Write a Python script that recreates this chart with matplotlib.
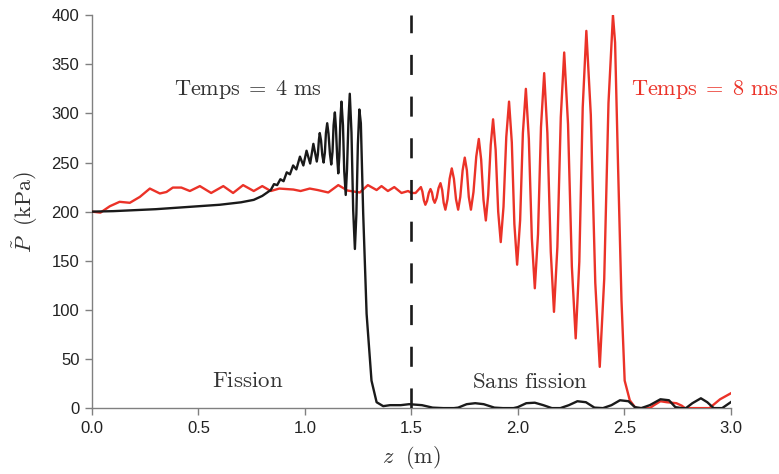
import matplotlib
matplotlib.use("Agg")
import matplotlib.pyplot as plt

plt.rcParams['mathtext.fontset'] = 'cm'
plt.rcParams['font.family'] = ['Liberation Sans', 'DejaVu Sans']

# Black curve: Temps = 4 ms
z_black = [0.0, 0.1, 0.2, 0.3, 0.4, 0.5, 0.6, 0.7, 0.76, 0.8, 0.84, 0.855, 0.87, 0.885, 0.9,
           0.915, 0.93, 0.945, 0.96, 0.977, 0.993, 1.008, 1.025, 1.04, 1.056,
           1.061, 1.066, 1.07, 1.076, 1.082, 1.088, 1.094, 1.099, 1.105, 1.111, 1.118, 1.124,
           1.130, 1.135, 1.141, 1.146, 1.152, 1.157, 1.162, 1.167, 1.172, 1.179, 1.185, 1.192,
           1.198, 1.205, 1.211, 1.219, 1.227, 1.235, 1.242, 1.249, 1.256, 1.263, 1.274, 1.29,
           1.313, 1.337, 1.368, 1.40, 1.45, 1.49, 1.55, 1.60, 1.65, 1.70, 1.72, 1.76, 1.80,
           1.84, 1.89, 1.93, 1.98, 2.00, 2.04, 2.08, 2.12, 2.16, 2.20, 2.24, 2.28, 2.32, 2.36,
           2.40, 2.44, 2.48, 2.52, 2.55, 2.58, 2.62, 2.67, 2.71, 2.74, 2.77, 2.79, 2.82, 2.86,
           2.89, 2.92, 2.96, 2.98, 3.0]
p_black = [200, 200.5, 201.5, 202.5, 204, 205.5, 207, 209.5, 212, 216, 222, 228, 227, 233, 231,
           240, 238, 247, 243, 256, 247, 262, 249, 269, 251,
           258, 273, 280, 272.5, 257.5, 250, 260, 280, 290, 279.5, 258.5, 248,
           261, 288, 301, 285.5, 254.5, 239, 257, 294, 312, 288, 241, 217,
           243, 294, 320, 280.5, 201.5, 162, 197.5, 268.5, 304, 290, 198, 96,
           28, 6, 2, 3, 3, 4, 3, 0.5, 0, 0, 0.5, 4, 5,
           4, 0.5, 0, 0, 1, 5, 5.5, 3, 0, 0, 3, 7, 6, 0.5,
           0, 3, 8, 7, 1, 0, 3, 9, 8, 1, 0, 0, 5, 10,
           6, 0, 0, 3, 6]

# Red curve: Temps = 8 ms
z_red = [0.0, 0.04, 0.084, 0.13, 0.178, 0.225, 0.272, 0.319, 0.35, 0.38, 0.42, 0.46, 0.507,
         0.56, 0.617, 0.663, 0.71, 0.76, 0.80, 0.84, 0.88, 0.946, 0.98, 1.023, 1.06, 1.11,
         1.157, 1.20, 1.258, 1.296, 1.337, 1.36, 1.39, 1.42, 1.454, 1.485, 1.50, 1.52,
         1.545, 1.552, 1.559, 1.566, 1.574, 1.582, 1.59, 1.597, 1.603, 1.61, 1.619, 1.628,
         1.637, 1.645, 1.652, 1.66, 1.67, 1.68, 1.69, 1.70, 1.71, 1.72, 1.730, 1.741,
         1.751, 1.761, 1.770, 1.78, 1.792, 1.805, 1.817, 1.828, 1.839, 1.85, 1.861, 1.873,
         1.884, 1.896, 1.908, 1.92, 1.933, 1.946, 1.959, 1.972, 1.984, 1.997, 2.011, 2.024,
         2.038, 2.052, 2.066, 2.08, 2.095, 2.109, 2.124, 2.139, 2.155, 2.17, 2.186, 2.202,
         2.218, 2.236, 2.254, 2.272, 2.289, 2.305, 2.322, 2.343, 2.364, 2.385, 2.406, 2.426,
         2.447, 2.457, 2.471, 2.487, 2.502, 2.526, 2.55, 2.56, 2.62, 2.64, 2.67, 2.70,
         2.745, 2.77, 2.785, 2.90, 2.95, 3.0]
p_red = [200, 199, 205.5, 210, 209, 215, 223.5, 218.5, 220, 224.5, 224.5, 221, 226,
         219, 226, 219, 227, 221, 226, 221, 223.5, 222.5, 221, 223.5, 222, 219.5,
         227, 221.5, 219.5, 227, 222, 226, 221, 225, 219, 221, 219, 219,
         225, 220.5, 211.5, 207, 211, 219, 223, 219.5, 212.5, 209, 214, 224,
         229, 222, 209, 202, 212.5, 233.5, 244, 233.5, 212.5, 202, 215, 242,
         255, 242, 215, 202, 220, 256, 274, 253, 212, 191, 217, 268,
         294, 263, 200, 169, 205, 276, 312, 270.5, 187.5, 146, 191, 280,
         325, 274, 173, 122, 177, 286, 341, 280, 159, 98, 164, 296,
         362, 289, 144, 71, 149, 306, 384, 298.5, 127.5, 42, 131.5, 310.5,
         400, 372, 246, 110, 28, 8, 1, 0, 0, 3, 7, 6,
         5, 2.5, 0, 0, 9, 15]

x_ticks = [0.0, 0.5, 1.0, 1.5, 2.0, 2.5, 3.0]
x_ticklabels = ["0.0", "0.5", "1.0", "1.5", "2.0", "2.5", "3.0"]
y_ticks = [0, 50, 100, 150, 200, 250, 300, 350, 400]

fig = plt.figure(figsize=(7.79, 4.74), dpi=100)
ax = fig.add_axes([0.118, 0.139, 0.820, 0.829])

red = '#eb3228'
ax.plot(z_red, p_red, color=red, lw=1.7, zorder=3, solid_joinstyle='round')
ax.plot(z_black, p_black, color='#1a1a1a', lw=1.7, zorder=4, solid_joinstyle='round')
ax.axvline(1.5, color='#1a1a1a', lw=1.9, dashes=(7.6, 8.2), zorder=5)

ax.set_xlim(0, 3)
ax.set_ylim(0, 400)
ax.set_xticks(x_ticks)
ax.set_xticklabels(x_ticklabels)
ax.set_yticks(y_ticks)

for s in ['top', 'right']:
    ax.spines[s].set_visible(False)
for s in ['left', 'bottom']:
    ax.spines[s].set_color('#808080')
    ax.spines[s].set_linewidth(1.0)
ax.tick_params(direction='out', length=5, width=1.0, color='#808080',
               labelsize=12, labelcolor='#222222', pad=4)

ax.set_xlabel(r"$z\ \ (\mathrm{m})$", fontsize=16, color='#333333', labelpad=6)
ax.set_ylabel(r"$\tilde{P}\ \ (\mathrm{kPa})$", fontsize=16, color='#333333', labelpad=8)

ax.text(0.73, 324, r"$\mathrm{Temps}\;=\;4\ \mathrm{ms}$", fontsize=16, color='#333333',
        ha='center', va='center')
ax.text(2.88, 324, r"$\mathrm{Temps}\;=\;8\ \mathrm{ms}$", fontsize=16, color=red,
        ha='center', va='center', clip_on=False)
ax.text(0.73, 28.5, r"$\mathrm{Fission}$", fontsize=16.5, color='#333333',
        ha='center', va='center')
ax.text(2.06, 27.5, r"$\mathrm{Sans\ fission}$", fontsize=16.5, color='#333333',
        ha='center', va='center')

fig.savefig("out.png", dpi=100)
